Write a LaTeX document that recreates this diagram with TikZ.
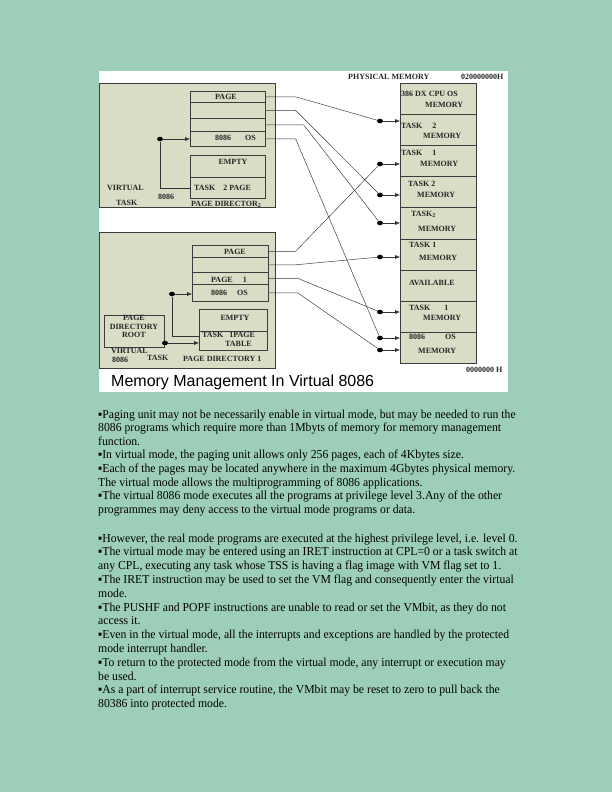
\documentclass[tikz,border=0pt]{standalone}
\usepackage{fontspec}
\setmainfont{Liberation Serif}
\newfontfamily\titlefont{Liberation Sans}
\newfontfamily\notefont{Liberation Serif}[FakeStretch=0.96]
\usetikzlibrary{arrows.meta,shapes.geometric}
\definecolor{pagebg}{RGB}{157,206,185}
\definecolor{boxfill}{RGB}{219,220,198}
\definecolor{boxline}{RGB}{60,60,60}
\def\rowh{31.1}
\tikzset{
  cell/.style={draw=boxline,fill=boxfill,line width=0.6pt,inner sep=0pt,anchor=north west},
  lbl/.style={font=\bfseries\fontsize{8}{9}\selectfont,inner sep=0pt,text=black!85},
  wire/.style={line width=0.45pt,draw=black!80},
  ptr/.style={wire,-{Latex[length=5pt,width=4pt]}},
  blob/.style={ellipse,fill=black,inner sep=0pt,minimum width=6pt,minimum height=4.6pt},
  para/.style={anchor=base west,inner sep=0pt,font=\notefont\fontsize{12.2}{14}\selectfont}
}

\begin{document}
\begin{tikzpicture}[x=1pt,y=-1pt]
% page and picture area
\fill[pagebg] (0,0) rectangle (612,792);
\useasboundingbox (0,0) rectangle (612,792);
\fill[white] (99,71) rectangle (508,392);

% the two virtual tasks
\draw[cell] (99,83) rectangle (275,207);
\draw[cell] (99,232) rectangle (275,368);

% physical memory
\foreach \i in {1,...,9}
  \node[cell,minimum width=76pt,minimum height=\rowh pt] (m\i) at (400,{83+(\i-1)*\rowh}) {};
\node[lbl,anchor=west] (pmtitle) at (348,77) {PHYSICAL MEMORY};
\node[lbl,anchor=west] (pmtop) at (461,77) {020000000H};
\node[lbl,anchor=west] (pmbot) at (466,370) {0000000 H};
\node[lbl,anchor=west] (mt1a) at (401,94) {386 DX CPU OS};
\node[lbl,anchor=west] (mt1b) at (425,105) {MEMORY};
\node[lbl,anchor=west] (mt2a) at (401,126) {TASK\hspace{10pt}2};
\node[lbl,anchor=west] (mt2b) at (423,136) {MEMORY};
\node[lbl,anchor=west] (mt3a) at (401,153) {TASK\hspace{10pt}1};
\node[lbl,anchor=west] (mt3b) at (420,164) {MEMORY};
\node[lbl,anchor=west] (mt4a) at (408,184) {TASK 2};
\node[lbl,anchor=west] (mt4b) at (417,195) {MEMORY};
\node[lbl,anchor=west] (mt5a) at (411,214) {TASK\textsubscript{2}};
\node[lbl,anchor=west] (mt5b) at (418,229) {MEMORY};
\node[lbl,anchor=west] (mt6a) at (409,245) {TASK 1};
\node[lbl,anchor=west] (mt6b) at (419,258) {MEMORY};
\node[lbl,anchor=west] (mt7) at (409,283) {AVAILABLE};
\node[lbl,anchor=west] (mt8a) at (409,308) {TASK\hspace{14pt}1};
\node[lbl,anchor=west] (mt8b) at (423,318) {MEMORY};
\node[lbl,anchor=west] (mt9a) at (409,337) {8086\hspace{20pt}OS};
\node[lbl,anchor=west] (mt9b) at (418,351) {MEMORY};

% page table and page directory of task 2
\foreach \n/\t/\h in {1/91/11,2/102/16,3/118/13,4/131/15}
  \node[cell,minimum width=75pt,minimum height=\h pt] (t2r\n) at (190,\t) {};
\node[cell,minimum width=75pt,minimum height=22pt] (d2a) at (190,155) {};
\node[cell,minimum width=75pt,minimum height=21pt] (d2b) at (190,177) {};
\node[lbl] (t2p) at (226,97) {PAGE};
\node[lbl,anchor=west] (t2os) at (215,137.5) {8086\hspace{14pt}OS};
\node[lbl] (d2e) at (233,162) {EMPTY};
\node[lbl,anchor=west] (d2t) at (194,188) {TASK\hspace{8pt}2 PAGE};
\node[lbl,anchor=west] (d2n) at (191,204) {PAGE DIRECTOR\textsubscript{2}};
\node[lbl,anchor=west] (v2a) at (107,188) {VIRTUAL};
\node[lbl,anchor=west] (v2b) at (116,203) {TASK};
\node[lbl,anchor=west] (v2c) at (158,197) {8086};

% page table, page directory and root of task 1
\foreach \n/\t/\h in {1/245/12,2/257/15,3/272/12,4/284/17}
  \node[cell,minimum width=76pt,minimum height=\h pt] (t1r\n) at (192,\t) {};
\node[cell,minimum width=68pt,minimum height=22pt] (d1a) at (199,309) {};
\node[cell,minimum width=68pt,minimum height=19pt] (d1b) at (199,331) {};
\node[cell,minimum width=60pt,minimum height=32pt] (root) at (104,315) {};
\node[lbl] (t1p) at (235,252) {PAGE};
\node[lbl,anchor=west] (t1p1) at (211,280) {PAGE\hspace{10pt}1};
\node[lbl,anchor=west] (t1os) at (211,293) {8086\hspace{10pt}OS};
\node[lbl] (d1e) at (235,318) {EMPTY};
\node[lbl,anchor=west] (d1t) at (202,335) {TASK\hspace{6pt}1PAGE};
\node[lbl,anchor=west] (d1u) at (225,344) {TABLE};
\node[lbl,anchor=west] (d1n) at (183,359) {PAGE DIRECTORY 1};
\node[lbl] (rt1) at (134,318) {PAGE};
\node[lbl] (rt2) at (134,327) {DIRECTORY};
\node[lbl] (rt3) at (134,335) {ROOT};
\node[lbl,anchor=west] (v1a) at (111,351) {VIRTUAL};
\node[lbl,anchor=west] (v1b) at (112,360) {8086};
\node[lbl,anchor=west] (v1c) at (147,358) {TASK};

% junctions inside the tasks
\node[blob] (j2) at (160,139) {};
\draw[ptr] (j2) -- (j2 -| t2r4.west);
\draw[wire] (j2) |- (d2b.west);
\node[blob] (j1) at (172,294) {};
\draw[ptr] (j1) -- (j1 -| t1r4.west);
\draw[wire] (j1) |- ([yshift=5pt]d1b.west);
\node[blob] (j0) at (165,343) {};
\draw[ptr] (j0) -- (j0 -| d1b.west);

% dots in front of physical memory
\foreach \n/\y in {a/121,b/164,c/195,d/223,e/257,f/312,g/338,h/350}
  \node[blob] (q\n) at (380,\y) {};
\foreach \n/\m in {a/m2,b/m3,c/m4,d/m5,e/m6,f/m8,g/m9,h/m9}
  \draw[ptr] (q\n) -- (q\n -| \m.west);

% page entries to physical memory
\draw[wire] (t2r1.east) -- ++(30,0) -- (qa);
\draw[wire] (t2r2.east) -- ++(30,0) -- (qc);
\draw[wire] (t2r3.east) -- ++(38,0) -- (qd);
\draw[wire] (t2r4.east) -- ++(30,0) -- (qg);
\draw[wire] (t1r1.east) -- ++(27,0) -- (qb);
\draw[wire] (t1r2.east) -- ++(27,0) -- (qe);
\draw[wire] (t1r3.east) -- ++(29,0) -- (qf);
\draw[wire] (t1r4.east) -- ++(29,0) -- (qh);

% caption
\node[anchor=west,inner sep=0pt,font=\titlefont\fontsize{16}{18}\selectfont] (cap) at (111,382) {Memory Management In Virtual 8086};

% notes
\node[para] (p1) at (98,418) {▪Paging unit may not be necessarily enable in virtual mode, but may be needed to run the};
\node[para] (p2) at (98,431.6) {8086 programs which require more than 1Mbyts of memory for memory management};
\node[para] (p3) at (98,445.2) {function.};
\node[para] (p4) at (98,458.8) {▪In virtual mode, the paging unit allows only 256 pages, each of 4Kbytes size.};
\node[para] (p5) at (98,472.4) {▪Each of the pages may be located anywhere in the maximum 4Gbytes physical memory.};
\node[para] (p6) at (98,486) {The virtual mode allows the multiprogramming of 8086 applications.};
\node[para] (p7) at (98,499.6) {▪The virtual 8086 mode executes all the programs at privilege level 3.Any of the other};
\node[para] (p8) at (98,513.2) {programmes may deny access to the virtual mode programs or data.};
\node[para] (p9) at (98,542) {▪However, the real mode programs are executed at the highest privilege level, i.e. level 0.};
\node[para] (p10) at (98,555.8) {▪The virtual mode may be entered using an IRET instruction at CPL=0 or a task switch at};
\node[para] (p11) at (98,569.6) {any CPL, executing any task whose TSS is having a flag image with VM flag set to 1.};
\node[para] (p12) at (98,583.4) {▪The IRET instruction may be used to set the VM flag and consequently enter the virtual};
\node[para] (p13) at (98,597.2) {mode.};
\node[para] (p14) at (98,611) {▪The PUSHF and POPF instructions are unable to read or set the VMbit, as they do not};
\node[para] (p15) at (98,624.8) {access it.};
\node[para] (p16) at (98,638.6) {▪Even in the virtual mode, all the interrupts and exceptions are handled by the protected};
\node[para] (p17) at (98,652.4) {mode interrupt handler.};
\node[para] (p18) at (98,666.2) {▪To return to the protected mode from the virtual mode, any interrupt or execution may};
\node[para] (p19) at (98,680) {be used.};
\node[para] (p20) at (98,693.8) {▪As a part of interrupt service routine, the VMbit may be reset to zero to pull back the};
\node[para] (p21) at (98,707.6) {80386 into protected mode.};
\end{tikzpicture}
\end{document}
